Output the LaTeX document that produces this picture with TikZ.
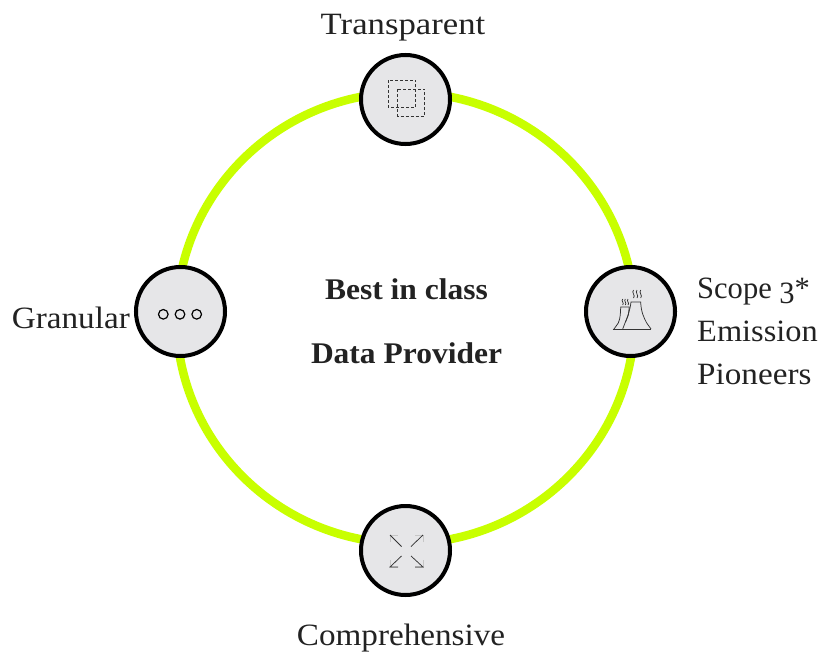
\documentclass[tikz,border=0pt]{standalone}
\usepackage{fontspec}
\setmainfont{Liberation Serif}
\newfontfamily\lblfont[FakeStretch=1.07]{Liberation Serif}
\newfontfamily\widefont[FakeStretch=1.12]{Liberation Serif}
\newfontfamily\midfont[FakeStretch=1.045]{Liberation Serif}
\newfontfamily\narrowfont[FakeStretch=0.985]{Liberation Serif}
\newfontfamily\headfont[FakeStretch=1.05]{Liberation Serif}
\definecolor{ringc}{HTML}{C8FF00}
\definecolor{discc}{HTML}{E6E6E8}
\definecolor{inkc}{HTML}{222222}
\definecolor{iconc}{HTML}{333333}
\tikzset{
  disc/.style={circle,draw=black,line width=4pt,fill=discc,minimum size=89pt,inner sep=0pt},
  lbl/.style={text=inkc,font=\lblfont\fontsize{31}{36}\selectfont,inner sep=0pt},
  head/.style={text=inkc,font=\headfont\fontsize{30}{34}\selectfont\bfseries,inner sep=0pt},
  ic/.style={draw=iconc,line width=.75pt},
  tick/.style={draw=gray!45,line width=.8pt}
}
\begin{document}
\begin{tikzpicture}[x=1pt,y=-1pt]
\useasboundingbox (0,0) rectangle (821,653);
\coordinate (ringc) at (405.5,318);
\draw[ringc,line width=8.5pt] (ringc) ellipse [x radius=229pt,y radius=225.5pt];
\node[disc] (top) at (405.5,99.5) {};
\node[disc] (right) at (630.5,311.5) {};
\node[disc] (bottom) at (405.5,550.5) {};
\node[disc] (left) at (180.5,311.5) {};
\node[lbl,font=\widefont\fontsize{31}{36}\selectfont] (ltop) at (403,28) {Transparent};
\node[lbl] (lbottom) at (401,638) {Comprehensive};
\node[lbl,anchor=east] (lleft) at (130,318) {Granular};
\node[lbl,anchor=west,font=\narrowfont\fontsize{31}{36}\selectfont] (lr1) at (697,292) {Scope \raisebox{-.16em}{3}*};
\node[lbl,anchor=west,font=\midfont\fontsize{31}{36}\selectfont] (lr2) at (697,331.5) {Emission};
\node[lbl,anchor=west] (lr3) at (697,374.5) {Pioneers};
\node[head] (h1) at (406.5,289) {Best in class};
\node[head] (h2) at (406.5,353) {Data Provider};
% transparent icon
\draw[ic,densely dashed] (388.3,80) rectangle (415.7,107.3);
\draw[ic,densely dashed] (397.3,89.3) rectangle (424.7,116);
% granular icon
\foreach \x in {163.3,180,196.7} \draw[black,line width=1.2pt] (\x,314.3) circle [radius=4.8pt];
% comprehensive icon
\draw[tick] (390,542) |- (398,535);
\draw[tick] (423,542) |- (415,535);
\draw[tick] (390,560) |- (398,567);
\draw[tick] (423,560) |- (415,567);
\draw[ic] (401.5,546.5) -- (390,535);
\draw[ic] (411,546.5) -- (423,535);
\draw[ic] (401.5,556) -- (390,567) -- (398,567);
\draw[ic] (411,556) -- (423,567) -- (415,567);
% pioneers icon
\draw[ic] (612.7,329) -- (651,329);
\draw[ic] (622.7,329) -- (625,323) .. controls (628,316) and (630,310) .. (631,302) -- (640.7,302) .. controls (641,312) and (644,318) .. (646.7,323) -- (651,329);
\draw[ic] (614,329) -- (618.3,323) .. controls (620.5,318) and (620.5,312) .. (620.7,307) -- (629.3,307) -- (628.3,315) -- (625.5,322);
\foreach \x in {633.5,637,640.7} \draw[ic] (\x,290) .. controls (\x-2.5,292.5) and (\x+2.5,295.5) .. (\x,298);
\foreach \x in {622.7,625.3,628} \draw[ic] (\x,299) .. controls (\x-2,301) and (\x+2,303) .. (\x,305);
\end{tikzpicture}
\end{document}
